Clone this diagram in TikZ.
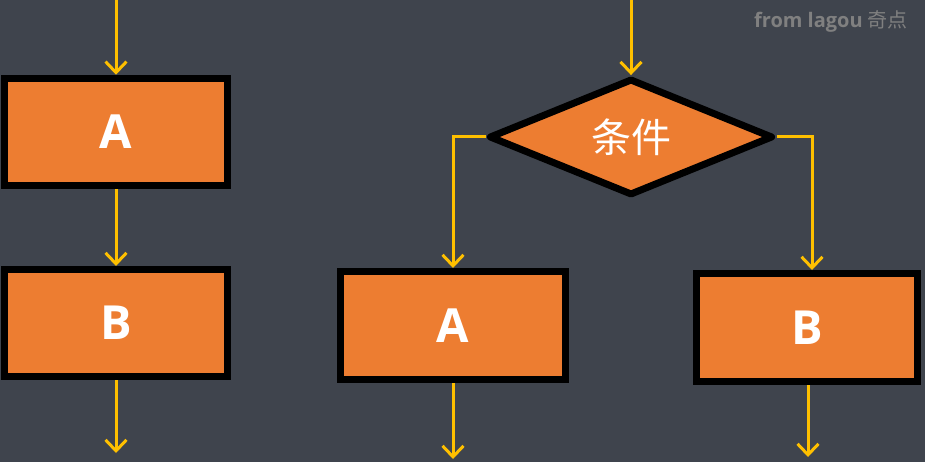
\documentclass[tikz,border=0pt]{standalone}
\usepackage{fontspec}
\setsansfont{Open Sans}
\newfontfamily\cjk{Noto Sans CJK SC}
\usetikzlibrary{arrows.meta,shapes.geometric}
\definecolor{bgcol}{HTML}{3F444D}
\definecolor{boxcol}{HTML}{ED7D31}
\definecolor{flowcol}{HTML}{FFC000}
\definecolor{markcol}{HTML}{808080}
\tikzset{
  box/.style={draw=black,line width=7pt,fill=boxcol,inner sep=0pt,text=white,
    font=\sffamily\bfseries\fontsize{47}{47}\selectfont},
  cond/.style={diamond,draw=black,line width=7pt,line join=round,fill=boxcol,inner sep=0pt,
    minimum width=284pt,minimum height=115pt,text=white,font=\cjk\fontsize{40}{40}\selectfont},
  flow/.style={draw=flowcol,line width=3pt,-{Straight Barb[length=11pt,width=21pt,line width=3pt]}}
}
\begin{document}
\begin{tikzpicture}[x=1pt,y=-1pt]
\fill[bgcol] (0,0) rectangle (925,462);
\useasboundingbox (0,0) rectangle (925,462);
\node[text=markcol,font=\sffamily\bfseries\fontsize{20}{20}\selectfont] (mark) at (831,21) {from lagou {\cjk\mdseries 奇点}};
% sequence
\node[box,minimum width=223pt,minimum height=107.5pt] (seqA) at (116,132) {A};
\node[box,minimum width=223pt,minimum height=107pt] (seqB) at (116,323) {B};
\coordinate (seqIn) at (116,0);\coordinate (seqOut) at (116,453);
\draw[flow] (seqIn) -- (seqA.north);
\draw[flow] (seqA.south) -- (seqB.north);
\draw[flow] (seqB.south) -- (seqOut);
% branch
\node[cond] (test) at (631,137) {条件};
\node[box,minimum width=225pt,minimum height=108pt] (brA) at (453,325.5) {A};
\node[box,minimum width=221.5pt,minimum height=108pt] (brB) at (807,327.5) {B};
\coordinate (brIn) at (631,0);
\coordinate (outA) at (453,459);\coordinate (outB) at (808,457);
\draw[flow] (brIn) -- (test.north);
\draw[flow] (test.west) -| (brA.north);
\draw[flow] (test.east) -| ([xshift=5pt]brB.north);
\draw[flow] (brA.south) -- (outA);
\draw[flow] ([xshift=1pt]brB.south) -- (outB);
\end{tikzpicture}
\end{document}
